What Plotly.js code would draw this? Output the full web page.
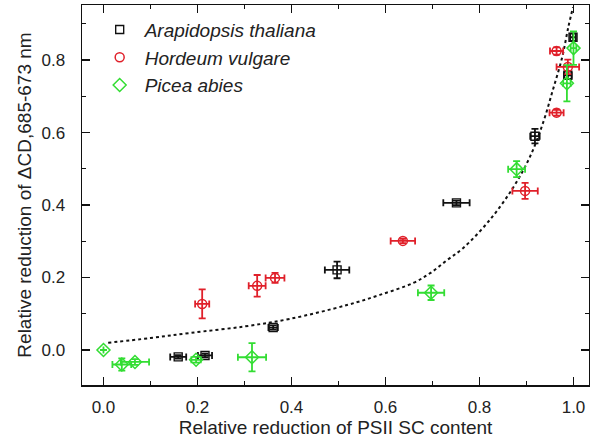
<!DOCTYPE html>
<html>
<head>
<meta charset="utf-8">
<script src="https://cdn.plot.ly/plotly-3.0.1.min.js"></script>
<style>html,body{margin:0;padding:0;background:#fff;}#chart{width:590px;height:443px;}</style>
</head>
<body>
<div id="chart"></div>
<script>
// Arapidopsis thaliana (black squares)
const araX    = [0.159, 0.216, 0.361, 0.497, 0.751, 0.918, 0.988, 0.999];
const araY    = [-0.019, -0.015, 0.062, 0.221, 0.406, 0.590, 0.758, 0.863];
const araXErr = [0.017, 0.015, 0.010, 0.026, 0.028, 0.010, 0.008, 0.006];
const araYErr = [0.005, 0.005, 0.006, 0.023, 0.006, 0.020, 0.010, 0.010];

// Hordeum vulgare (red circles)
const horX    = [0.210, 0.327, 0.365, 0.637, 0.897, 0.964, 0.988, 0.964];
const horY    = [0.127, 0.177, 0.199, 0.301, 0.439, 0.655, 0.781, 0.825];
const horXErr = [0.015, 0.018, 0.020, 0.026, 0.027, 0.015, 0.024, 0.014];
const horYErr = [0.040, 0.030, 0.014, 0.006, 0.022, 0.008, 0.020, 0.010];

// Picea abies (green diamonds)
const picX    = [0.000, 0.039, 0.067, 0.197, 0.316, 0.697, 0.879, 0.986, 1.000];
const picY    = [0.000, -0.040, -0.033, -0.027, -0.020, 0.158, 0.499, 0.736, 0.833];
const picXErr = [0.000, 0.020, 0.030, 0.010, 0.030, 0.028, 0.018, 0.008, 0.006];
const picYErr = [0.000, 0.017, 0.008, 0.008, 0.039, 0.020, 0.022, 0.050, 0.046];

// Dotted fit curve
const fitX = [0.010, 0.100, 0.184, 0.300, 0.397, 0.518, 0.588, 0.659, 0.695, 0.731, 0.765, 0.822, 0.871, 0.907, 0.935, 0.956, 0.976, 0.989, 0.999];
const fitY = [0.020, 0.033, 0.047, 0.065, 0.086, 0.124, 0.152, 0.185, 0.212, 0.248, 0.281, 0.359, 0.447, 0.532, 0.626, 0.717, 0.808, 0.891, 0.946];

const legendNames = ['Arapidopsis thaliana', 'Hordeum vulgare', 'Picea abies'];

const BLACK = '#111111', RED = '#e0202a', GREEN = '#33dd33';
const FONT = 'Liberation Sans, Arial, sans-serif';

function errs(arr, color) {
  return {type: 'data', array: arr, visible: true, color: color, thickness: 1.8, width: 3.5};
}

const traces = [
  {x: fitX, y: fitY, mode: 'lines', line: {color: '#111', width: 2, dash: 'dot', shape: 'spline'}, showlegend: false, hoverinfo: 'skip'},
  {x: araX, y: araY, name: legendNames[0], mode: 'markers', type: 'scatter',
   marker: {symbol: 'square-open', size: 8, color: BLACK, line: {width: 1.4, color: BLACK}},
   error_x: errs(araXErr, BLACK), error_y: errs(araYErr, BLACK)},
  {x: horX, y: horY, name: legendNames[1], mode: 'markers', type: 'scatter',
   marker: {symbol: 'circle-open', size: 9, color: RED, line: {width: 1.5, color: RED}},
   error_x: errs(horXErr, RED), error_y: errs(horYErr, RED)},
  {x: picX, y: picY, name: legendNames[2], mode: 'markers', type: 'scatter',
   marker: {symbol: 'diamond-open', size: 10, color: GREEN, line: {width: 1.5, color: GREEN}},
   error_x: errs(picXErr, GREEN), error_y: errs(picYErr, GREEN)}
];

const axisCommon = {
  showgrid: false, zeroline: false, showline: true, linecolor: '#111', linewidth: 1.5,
  mirror: 'ticks', ticks: 'inside', ticklen: 8, tickwidth: 1.3, tickcolor: '#111',
  tickfont: {family: FONT, size: 17, color: '#222'},
  minor: {ticks: 'inside', ticklen: 4, tickwidth: 1.2, tickcolor: '#111', showgrid: false}
};

const layout = {
  width: 590, height: 443,
  margin: {l: 82, r: 1, t: 5, b: 58},
  paper_bgcolor: '#fff', plot_bgcolor: '#fff',
  font: {family: FONT, color: '#222'},
  xaxis: Object.assign({}, axisCommon, {
    range: [-0.0457, 1.033], dtick: 0.2, tick0: 0, tickformat: '.1f',
    ticklabelstandoff: 6,
    minor: Object.assign({}, axisCommon.minor, {dtick: 0.1}),
    title: {text: 'Relative reduction of PSII SC content', font: {family: FONT, size: 19, color: '#222'}, standoff: 5}
  }),
  yaxis: Object.assign({}, axisCommon, {
    range: [-0.0966, 0.952], dtick: 0.2, tick0: 0, tickformat: '.1f',
    ticklabelstandoff: 12,
    minor: Object.assign({}, axisCommon.minor, {dtick: 0.1}),
    title: {text: 'Relative reduction of \u0394CD,685-673 nm', font: {family: FONT, size: 19, color: '#222'}, standoff: 5}
  }),
  legend: {
    x: 0.025, y: 0.985, xanchor: 'left', yanchor: 'top',
    bgcolor: 'rgba(0,0,0,0)', borderwidth: 0,
    font: {family: FONT, size: 19, color: '#222', style: 'italic'},
    itemsizing: 'trace', itemwidth: 40, tracegroupgap: 0
  },
  showlegend: true
};

Plotly.newPlot('chart', traces, layout, {displayModeBar: false, staticPlot: true});
</script>
</body>
</html>
